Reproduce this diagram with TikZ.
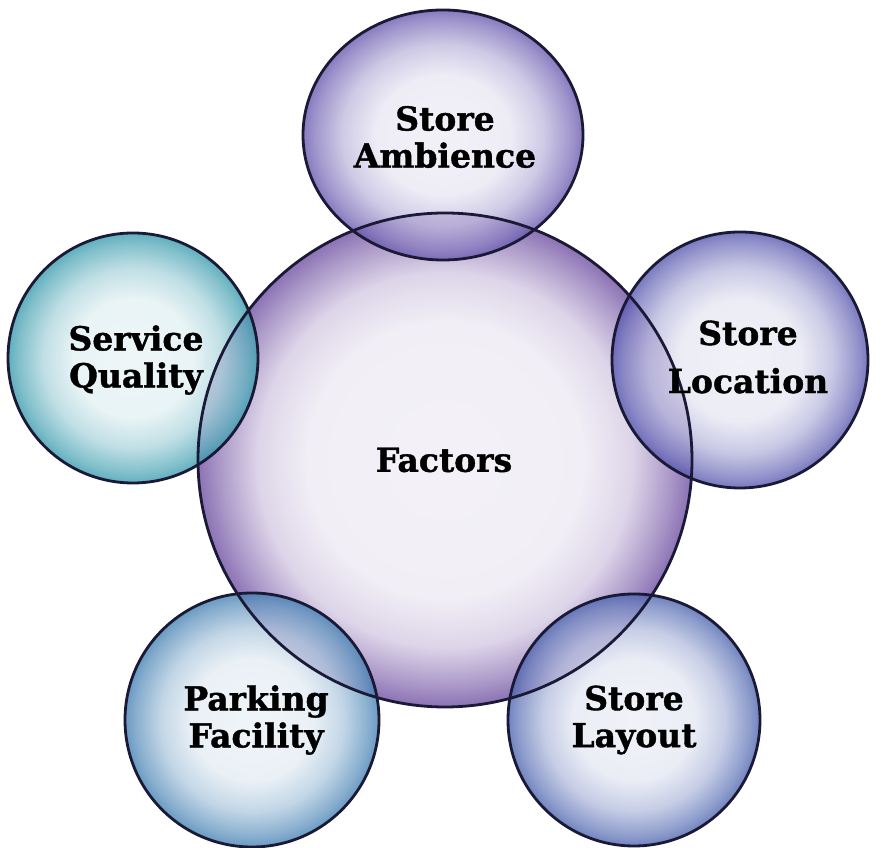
\documentclass[tikz,border=0pt]{standalone}
\usepackage{fontspec}
\newfontfamily\labfont[BoldFeatures={FakeBold=1.2}]{DejaVu Serif}
\usetikzlibrary{shapes.geometric}
\definecolor{cCen}{HTML}{8C72B4}
\definecolor{cTop}{HTML}{6656AE}
\definecolor{cLeft}{HTML}{3499AC}
\definecolor{cRight}{HTML}{5454AE}
\definecolor{cBL}{HTML}{407EB2}
\definecolor{cBR}{HTML}{4A62AE}
\definecolor{edgecol}{HTML}{1A1A36}
\pgfdeclareradialshading{shCen}{\pgfpoint{0bp}{0bp}}{color(0bp)=(white!90!cCen); color(14bp)=(white!88!cCen); color(19bp)=(cCen!30); color(23bp)=(cCen!75); color(25bp)=(cCen); color(50bp)=(cCen)}
\pgfdeclareradialshading{shTop}{\pgfpoint{0bp}{0bp}}{color(0bp)=(white!90!cTop); color(12bp)=(white!86!cTop); color(18bp)=(cTop!40); color(23bp)=(cTop!80); color(25bp)=(cTop); color(50bp)=(cTop)}
\pgfdeclareradialshading{shLeft}{\pgfpoint{0bp}{0bp}}{color(0bp)=(white!90!cLeft); color(12bp)=(white!86!cLeft); color(18bp)=(cLeft!40); color(23bp)=(cLeft!80); color(25bp)=(cLeft); color(50bp)=(cLeft)}
\pgfdeclareradialshading{shRight}{\pgfpoint{0bp}{0bp}}{color(0bp)=(white!90!cRight); color(12bp)=(white!86!cRight); color(18bp)=(cRight!40); color(23bp)=(cRight!80); color(25bp)=(cRight); color(50bp)=(cRight)}
\pgfdeclareradialshading{shBL}{\pgfpoint{0bp}{0bp}}{color(0bp)=(white!90!cBL); color(12bp)=(white!86!cBL); color(18bp)=(cBL!40); color(23bp)=(cBL!80); color(25bp)=(cBL); color(50bp)=(cBL)}
\pgfdeclareradialshading{shBR}{\pgfpoint{0bp}{0bp}}{color(0bp)=(white!90!cBR); color(12bp)=(white!86!cBR); color(18bp)=(cBR!40); color(23bp)=(cBR!80); color(25bp)=(cBR); color(50bp)=(cBR)}
\begin{document}
\begin{tikzpicture}[x=1pt,y=1pt,
  bubble/.style={circle, inner sep=0pt, draw=none},
  outerbubble/.style={bubble, fill opacity=0.78},
  rimline/.style={draw=edgecol, line width=2.8pt},
  lbl/.style={align=center, text=black, inner sep=0pt,
    font=\labfont\bfseries\fontsize{33}{37}\selectfont}]
\useasboundingbox (0,0) rectangle (881,848);
\fill[white] (0,0) rectangle (881,848);
% fills
\node[bubble, minimum size=494pt, shading=shCen] (factors) at (445,388) {};
\node[outerbubble, ellipse, minimum width=280pt, minimum height=250pt, shading=shTop] (ambience) at (443,713) {};
\node[outerbubble, minimum size=250pt, shading=shLeft] (service) at (133,490) {};
\node[outerbubble, minimum size=256pt, shading=shRight] (location) at (740,488) {};
\node[outerbubble, minimum size=254pt, shading=shBL] (parking) at (252,128) {};
\node[outerbubble, minimum size=252pt, shading=shBR] (layout) at (634,128) {};
% outlines
\draw[rimline] (factors.center) circle[radius=247];
\draw[rimline] (ambience.center) ellipse[x radius=140, y radius=125];
\draw[rimline] (service.center) circle[radius=125];
\draw[rimline] (location.center) circle[radius=128];
\draw[rimline] (parking.center) circle[radius=127];
\draw[rimline] (layout.center) circle[radius=126];
% labels
\node[lbl] (tfactors) at (444,388) {Factors};
\node[lbl] (tambience) at (445,711) {Store\\Ambience};
\node[lbl] (tservice) at (136,488) {Service\\Quality};
\node[lbl, font=\labfont\bfseries\fontsize{33}{48}\selectfont] (tlocation) at (748,491) {Store\\Location};
\node[lbl] (tparking) at (256,128) {Parking\\Facility};
\node[lbl] (tlayout) at (634,128) {Store\\Layout};
\end{tikzpicture}
\end{document}
